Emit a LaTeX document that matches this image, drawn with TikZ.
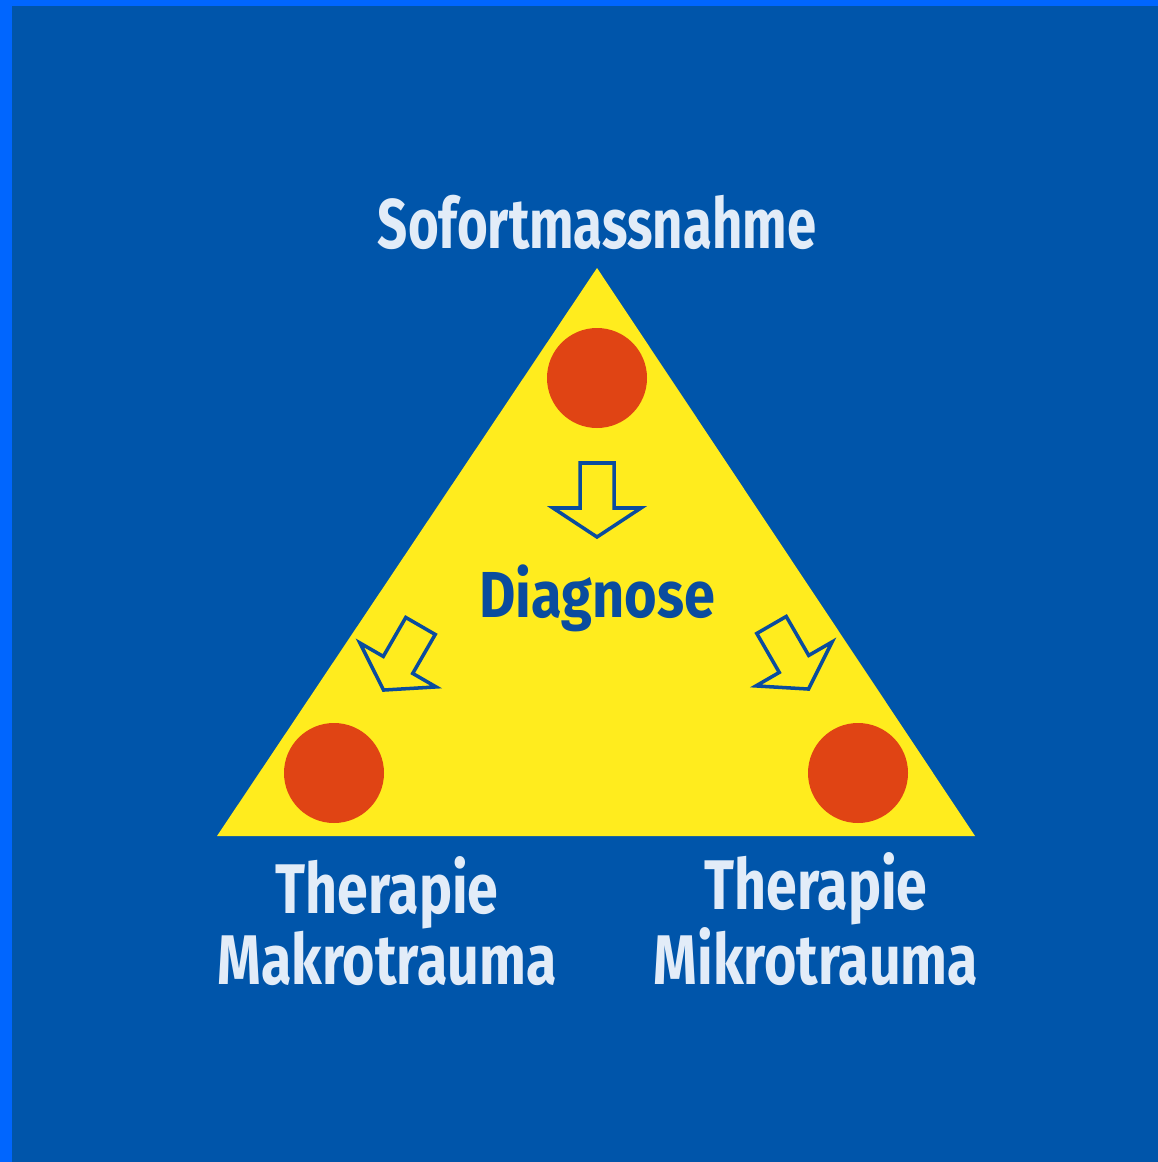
\documentclass[tikz,border=0pt]{standalone}
\usepackage{fontspec}
\setmainfont{Fira Sans}[FakeStretch=0.75]
\newfontfamily\wideish{Fira Sans}[FakeStretch=0.79]
\newfontfamily\diagfont{Fira Sans}[FakeStretch=0.86]
\usetikzlibrary{positioning}

\definecolor{frameblue}{HTML}{0066FF}
\definecolor{bgblue}{HTML}{0055AA}
\definecolor{triyellow}{HTML}{FFEC1E}
\definecolor{dotred}{HTML}{E04414}
\definecolor{txtlight}{HTML}{E2ECF8}
\definecolor{txtdark}{HTML}{0A4C9E}

\tikzset{
  dot/.style={circle,fill=dotred,minimum size=100*0.02cm,inner sep=0pt},
  lbl/.style={text=txtlight,font=\bfseries\fontsize{40}{38}\selectfont,align=center,inner sep=0pt},
  hollow/.pic={
    \draw[txtdark,line width=2pt,fill=triyellow,line join=miter]
      (-17,-37) -- (17,-37) -- (17,8) -- (44,8) -- (0,37) -- (-44,8) -- (-17,8) -- cycle;
  }
}

\begin{document}
\begin{tikzpicture}[x=0.02cm,y=-0.02cm]

  % frame
  \fill[frameblue] (0,0) rectangle (1158,1162);
  \fill[bgblue] (12,6) rectangle (1158,1162);
  \useasboundingbox (0,0) rectangle (1158,1162);

  % triangle
  \fill[triyellow] (597,268) -- (975,836) -- (217,836) -- cycle;

  \node[dot] (top) at (597,378) {};
  \node[dot] (left) at (334,773) {};
  \node[dot] (right) at (858,773) {};

  \pic at (597,500) {hollow};
  \pic[rotate=-30] at (402,658) {hollow};
  \pic[rotate=30] at (790,657) {hollow};

  \node[lbl] (sofort) at (597,222) {Sofortmassnahme};
  \node[lbl,text=txtdark,font=\diagfont\bfseries\fontsize{37}{36}\selectfont] (diag) at (597,598) {Diagnose};
  \node[lbl,font=\wideish\bfseries\fontsize{40}{38}\selectfont] (makro) at (387,921) {Therapie\\Makrotrauma};
  \node[lbl,font=\wideish\bfseries\fontsize{40}{38}\selectfont] (mikro) at (816,919) {Therapie\\Mikrotrauma};

\end{tikzpicture}
\end{document}
